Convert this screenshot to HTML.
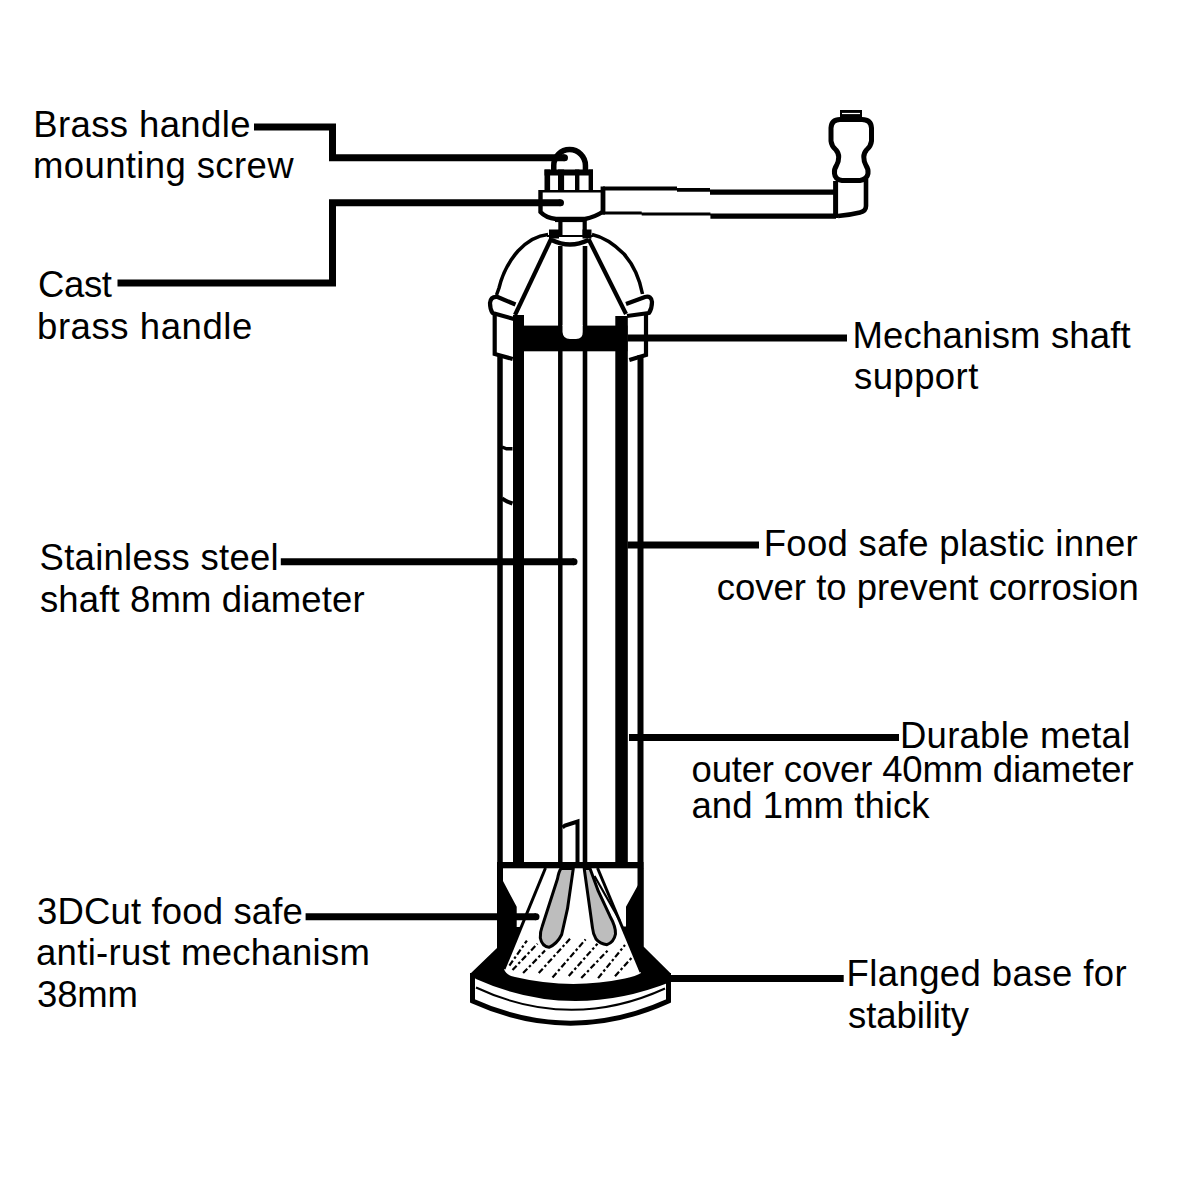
<!DOCTYPE html>
<html><head><meta charset="utf-8">
<style>
html,body{margin:0;padding:0;background:#fff;}
svg{display:block;}
text{font-family:"Liberation Sans",sans-serif;font-size:36.5px;fill:#000;}
</style></head>
<body>
<svg width="1200" height="1200" viewBox="0 0 1200 1200">
<rect x="0" y="0" width="1200" height="1200" fill="#fff"/>


<!-- ===== handle knob & arm ===== -->
<g id="handle" fill="none" stroke="#000">
<!-- knob cap -->
<rect x="840" y="110" width="22" height="7" fill="#000" stroke="none"/>
<!-- knob bulb -->
<path d="M840 119.5 H862 Q871 119.5 871.5 128 V141 Q871 146 866.5 150 Q863.8 153 863.8 157 Q863.8 162 866 165.5 Q868.5 169 868 173.5 Q867 179.5 860 180.5 H842 Q835 179.5 834.5 173.5 Q834 169 836.5 165.5 Q838.7 162 838.7 157 Q838.7 153 836 150 Q831.5 146 831 141 V128 Q831.5 119.5 840 119.5 Z" stroke-width="5"/>
<path d="M842 113.5 H860" stroke="#fff" stroke-width="1.2"/>
<!-- elbow -->
<path d="M835.6 181 V218" stroke-width="5"/>
<path d="M866 179 V206 Q866 211 860 212.5 Q850 215 838 216" stroke-width="4.6"/>
<!-- arm -->
<path d="M603 186.5 H677 V187.9 H710 V189.6 H836 V194.8 H710 V191.7 H677 V190.6 H603 Z" fill="#000" stroke="none"/>
<path d="M603 211.5 H641.7 V212.5 H710.4 V213.5 H836 V218.75 H710.4 V215.6 H641.7 V214.6 H603 Z" fill="#000" stroke="none"/>
<path d="M602.8 186.5 V214.6" stroke-width="4.4"/>
</g>

<!-- ===== screw, nut, hub ===== -->
<g id="screw" fill="none" stroke="#000">
<!-- screw head -->
<path d="M553.75 171 V165.4 A15.85 15.85 0 0 1 585.45 165.4 V171" stroke-width="5.5"/>
<!-- nut -->
<rect x="544.5" y="169.5" width="48.5" height="6" fill="#000" stroke="none"/>
<rect x="544.5" y="169.5" width="5.6" height="22" fill="#000" stroke="none"/>
<rect x="558" y="169.5" width="6.1" height="22" fill="#000" stroke="none"/>
<rect x="575" y="169.5" width="4.4" height="22" fill="#000" stroke="none"/>
<rect x="588.6" y="169.5" width="4.4" height="22" fill="#000" stroke="none"/>
<!-- hub -->
<path d="M540.5 191.2 H603" stroke-width="2.4"/>
<path d="M540.5 190 V212 Q546 218 556 219 H585 Q595 217 603.2 211.5 V190" stroke-width="4.4"/>
<path d="M555 219.6 H585" stroke-width="5"/>
<!-- neck -->
<path d="M560.4 219 V236 M584.7 219 V236" stroke-width="4.2"/>
<!-- collar blocks -->
<rect x="549" y="229.5" width="10" height="9" fill="#000" stroke="none"/>
<rect x="582.5" y="229.5" width="9" height="9" fill="#000" stroke="none"/>
<path d="M547 236 H593" stroke-width="2.2"/>
<path d="M551.5 240 Q570 249 588.5 240" stroke-width="4.5"/>
</g>

<!-- ===== dome ===== -->
<g id="dome" fill="none" stroke="#000">
<path d="M548 234.5 Q532 236 518 251 Q504 267 499 288 L496.5 295" stroke-width="3.5"/>
<path d="M592 234.5 Q608 238 624 254 Q638 270 642.5 294" stroke-width="3.5"/>
<path d="M551.5 238 L515 315" stroke-width="4.2"/>
<path d="M588.5 239 L626 314" stroke-width="4.2"/>
<!-- tabs -->
<path d="M515.5 304.5 L497 296.8 Q490.5 296.5 490 303 Q490 309 492.5 313 L514 319" stroke-width="4.2" stroke-linejoin="round"/>
<path d="M626 304 L645 297 Q651.5 295.5 652 302 Q652 308.5 649 313 L627 316" stroke-width="4.2" stroke-linejoin="round"/>
</g>

<!-- ===== body ===== -->
<g id="body" fill="#000" stroke="none">
<!-- shaft support band -->
<rect x="513" y="325.6" width="114.5" height="25.7"/>
<!-- inner walls -->
<rect x="513" y="315" width="11" height="550"/>
<rect x="615.3" y="316" width="12.5" height="549"/>
<!-- bottom band -->
<rect x="497" y="862" width="146.5" height="6.3"/>
</g>
<g fill="none" stroke="#000">
<!-- outer walls -->
<path d="M494.7 315 V354 L512.7 359" stroke-width="4.2"/>
<path d="M500 355 V950" stroke-width="5.5"/>
<path d="M646 314 V355 L629.3 360" stroke-width="4.2"/>
<path d="M640.5 355 V948" stroke-width="6"/>
<!-- shaft -->
<path d="M560.3 246 V862" stroke-width="4.5"/>
<path d="M585 246 V862" stroke-width="4.6"/>
<!-- notches -->
<path d="M502 447 L506.5 448.8 H512.5" stroke-width="3.4"/>
<path d="M502 498.5 L507 501.5 L512.5 503.5" stroke-width="4"/>
<!-- hook -->
<path d="M562.5 827.5 L565 825.5 L577.5 821.5 V862" stroke-width="4"/>
</g>
<!-- shaft rounded bottom inside band (white) -->
<path d="M562.5 325 V332 Q563 339 570 339 H576 Q583 339 582.7 332 V325 Z" fill="#fff"/>

<!-- ===== base ===== -->
<g id="base">
<!-- black flange mass -->
<path d="M497 868 H503 V881 L516.7 906.8 V927 H521.5 L504 969 Q506 975.5 515 977 Q570 990 625 978.5 Q636 976 641 973 L622.8 926.6 H626 V906.8 L638.6 884 V868 H643.5 V946.4 L670.5 973.3 V982 Q570.5 1021.5 476 979 L470 974 L497 948 Z" fill="#000"/>
<!-- disc outline -->
<path d="M472.5 973 V1001 Q570.5 1045.3 668.5 1001 V973" fill="none" stroke="#000" stroke-width="5"/>
<path d="M476 987.5 Q570.5 1031.7 665 988.5" fill="none" stroke="#000" stroke-width="2"/>
<!-- cone left line -->
<path d="M545.5 868 L504 969" stroke="#000" stroke-width="3" fill="none"/>
<!-- cone right double line -->
<path d="M597.5 868 L641 972" stroke="#000" stroke-width="3" fill="none"/>
<path d="M594.5 876 L620 921" stroke="#000" stroke-width="2.2" fill="none"/>
<!-- blades -->
<path d="M561 868.5 H573.3 L567.5 908.7 L561.7 934.5 Q557 944 549 947.3 Q542 946.5 540.3 938 Q540 932 542 927 L557.5 878.7 Q559 871 561 868.5 Z" fill="#bdbdbd" stroke="#000" stroke-width="3" stroke-linejoin="round"/>
<path d="M584.2 868.5 H590 L598.3 891.2 L610 916.2 Q616 927 615.5 934 Q614 942 607 944.7 Q600 944 596 939 Q593 934 592.5 928 L588.3 897.8 Z" fill="#bdbdbd" stroke="#000" stroke-width="3" stroke-linejoin="round"/>
<!-- hatching -->
<g stroke="#000" stroke-width="2.2" stroke-dasharray="6 2.5 2.5 2.5" fill="none">
<path d="M509.4 965.6 L526.9 940.6"/>
<path d="M512.5 970 L537.5 943.75"/>
<path d="M523.1 973.1 L545 950.6"/>
<path d="M538.75 973.1 L570 938.75"/>
<path d="M552.5 977.5 L585.6 939.4"/>
<path d="M568.75 976 L597.5 943.75"/>
<path d="M581.25 978.1 L608.75 949.4"/>
<path d="M598.1 978.1 L625 945"/>
<path d="M615 976.25 L631.9 957.5"/>
</g>
</g>
<!-- ===== labels ===== -->
<g id="labels">
<text x="33.25" y="137.10" textLength="217.21" lengthAdjust="spacing">Brass handle</text>
<text x="33.00" y="178.30" textLength="260.56" lengthAdjust="spacing">mounting screw</text>
<text x="38.00" y="297.00" textLength="74.00" lengthAdjust="spacing">Cast</text>
<text x="37.00" y="339.00" textLength="215.34" lengthAdjust="spacing">brass handle</text>
<text x="852.50" y="347.70" textLength="278.25" lengthAdjust="spacing">Mechanism shaft</text>
<text x="854.00" y="388.50" textLength="124.32" lengthAdjust="spacing">support</text>
<text x="39.50" y="569.60" textLength="239.20" lengthAdjust="spacing">Stainless steel</text>
<text x="40.00" y="612.20" textLength="324.65" lengthAdjust="spacing">shaft 8mm diameter</text>
<text x="763.75" y="555.90" textLength="373.93" lengthAdjust="spacing">Food safe plastic inner</text>
<text x="716.75" y="600.10" textLength="421.98" lengthAdjust="spacing">cover to prevent corrosion</text>
<text x="900.00" y="748.20" textLength="230.25" lengthAdjust="spacing">Durable metal</text>
<text x="691.50" y="782.40" textLength="442.13" lengthAdjust="spacing">outer cover 40mm diameter</text>
<text x="691.50" y="817.70" textLength="237.99" lengthAdjust="spacing">and 1mm thick</text>
<text x="37.00" y="924.30" textLength="265.92" lengthAdjust="spacing">3DCut food safe</text>
<text x="36.00" y="965.40" textLength="333.89" lengthAdjust="spacing">anti-rust mechanism</text>
<text x="37.00" y="1007.00" textLength="100.89" lengthAdjust="spacing">38mm</text>
<text x="846.50" y="986.20" textLength="280.12" lengthAdjust="spacing">Flanged base for</text>
<text x="848.00" y="1027.50" textLength="121.04" lengthAdjust="spacing">stability</text>
</g>

<!-- ===== leaders ===== -->
<g id="leaders" fill="none" stroke="#000" stroke-width="7" stroke-linejoin="miter">
<path d="M254 127 H332.5 V157.7 H564.5"/>
<path d="M117.5 283 H332.5 V202.7 H560.5"/>
<path d="M627.5 338 H847"/>
<path d="M280.8 561.7 H574"/>
<path d="M627.5 545 H759"/>
<path d="M629 737.5 H899"/>
<path d="M305.6 916.8 H536"/>
<path d="M670 978.5 H843.7"/>
</g>
<g fill="#000">
<circle cx="564.5" cy="157.7" r="3.5"/>
<circle cx="560.5" cy="202.7" r="3.5"/>
<circle cx="574" cy="561.7" r="3.5"/>
<circle cx="536" cy="916.8" r="3.5"/>
</g>

</svg>
</body></html>
